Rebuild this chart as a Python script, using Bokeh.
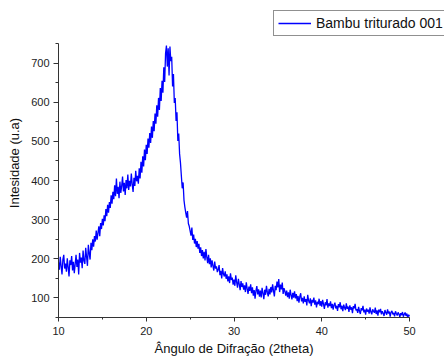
import numpy as np
from bokeh.plotting import figure
from bokeh.models import Range1d, SingleIntervalTicker, Legend, LegendItem, ColumnDataSource, Title
from bokeh.embed import file_html
from bokeh.resources import INLINE

# measurement grid: 2theta from 10 to 50 deg, step 0.1
theta_start = 10.0
theta_step = 0.1

# intensities, one row per degree (x.0 ... x.9)
intensity = [
    190, 172, 205, 181, 160, 198, 210, 175, 188, 167,   # 10
    201, 178, 155, 196, 184, 207, 170, 192, 163, 186,   # 11
    210, 179, 198, 160, 215, 190, 203, 176, 221, 195,   # 12
    187, 228, 205, 182, 236, 214, 198, 241, 222, 250,   # 13
    231, 258, 244, 272, 249, 266, 283, 258, 291, 276,   # 14
    302, 285, 311, 296, 327, 309, 338, 318, 345, 330,   # 15
    362, 341, 371, 352, 388, 360, 405, 366, 384, 355,   # 16
    397, 368, 386, 410, 372, 394, 363, 401, 380, 415,   # 17
    376, 399, 385, 418, 390, 371, 407, 386, 425, 398,   # 18
    412, 392, 431, 405, 448, 420, 462, 436, 479, 452,   # 19
    491, 468, 507, 484, 521, 496, 538, 509, 552, 526,   # 20
    571, 545, 592, 563, 611, 580, 636, 603, 655, 624,   # 21
    689, 652, 724, 745, 691, 738, 668, 742, 705, 716,   # 22
    640, 672, 598, 611, 552, 574, 501, 520, 468, 445,   # 23
    412, 380, 395, 350, 332, 318, 305, 322, 290, 283,   # 24
    271, 259, 280, 248, 262, 239, 251, 230, 245, 226,   # 25
    238, 215, 229, 207, 222, 201, 218, 196, 225, 204,   # 26
    189, 210, 186, 201, 178, 196, 182, 170, 193, 175,   # 27
    181, 166, 172, 184, 158, 169, 150, 176, 161, 155,   # 28
    168, 149, 160, 142, 155, 138, 163, 146, 152, 134,   # 29
    147, 131, 158, 140, 126, 149, 135, 120, 143, 128,   # 30
    137, 121, 132, 115, 140, 124, 110, 129, 118, 135,   # 31
    112, 127, 106, 120, 98, 118, 130, 109, 122, 103,    # 32
    119, 101, 126, 112, 97, 121, 108, 131, 114, 104,    # 33
    123, 109, 128, 114, 135, 118, 104, 131, 120, 142,   # 34
    127, 148, 115, 134, 122, 139, 110, 125, 117, 106,   # 35
    119, 102, 114, 98, 121, 108, 96, 113, 101, 117,     # 36
    99, 110, 92, 105, 88, 103, 112, 91, 100, 86,        # 37
    104, 90, 97, 81, 108, 93, 86, 99, 79, 95,           # 38
    88, 101, 83, 94, 76, 90, 84, 98, 80, 92,            # 39
    78, 95, 84, 72, 89, 81, 97, 75, 86, 79,             # 40
    91, 74, 85, 70, 82, 88, 73, 80, 67, 84,             # 41
    76, 89, 71, 80, 66, 83, 75, 69, 86, 72,             # 42
    78, 64, 81, 70, 76, 61, 79, 73, 85, 68,             # 43
    71, 62, 77, 66, 59, 74, 68, 80, 63, 70,             # 44
    57, 73, 65, 70, 60, 76, 64, 58, 71, 66,             # 45
    62, 75, 59, 68, 55, 70, 63, 72, 58, 66,             # 46
    61, 54, 69, 63, 57, 71, 60, 65, 52, 64,             # 47
    67, 58, 62, 53, 66, 60, 55, 63, 59, 51,             # 48
    61, 56, 64, 52, 58, 63, 54, 60, 50, 57,             # 49
    53,                                                 # 50
]
series_name = "Bambu triturado 001"
x_label = "Ângulo de Difração (2theta)"
y_label = "Intesidade (u.a)"
x_lim = (10, 50)
y_lim = (50, 750)

theta = np.round(theta_start + theta_step * np.arange(len(intensity)), 2)
src = ColumnDataSource(dict(x=theta, y=intensity))

FONT = "Liberation Sans"

# layout in pixels: axes box spans x 58..409, y 43..317; frame extended to
# the top/right so the legend (outside the axes box) is not clipped
W, H = 444, 358
ax_left, ax_right, ax_top, ax_bottom = 58, 409, 43, 317
fr_top, fr_right = 8, W
xs = (x_lim[1] - x_lim[0]) / (ax_right - ax_left)
ys = (y_lim[1] - y_lim[0]) / (ax_bottom - ax_top)
x_range = Range1d(x_lim[0], x_lim[1] + (fr_right - ax_right) * xs)
y_range = Range1d(y_lim[0], y_lim[1] + (ax_top - fr_top) * ys)

p = figure(width=W, height=H, output_backend="svg", toolbar_location=None,
           x_range=x_range, y_range=y_range,
           min_border_left=ax_left, min_border_right=W - fr_right,
           min_border_top=fr_top, min_border_bottom=H - ax_bottom)
p.outline_line_color = None
p.xgrid.visible = False
p.ygrid.visible = False
p.background_fill_color = "white"
p.border_fill_color = "white"

r = p.line("x", "y", source=src, line_color="#0000ff", line_width=1.3)

p.xaxis.ticker = SingleIntervalTicker(interval=10, num_minor_ticks=2)
p.yaxis.ticker = SingleIntervalTicker(interval=100, num_minor_ticks=2)
p.xaxis.bounds = x_lim
p.yaxis.bounds = y_lim

for ax in (p.xaxis[0], p.yaxis[0]):
    ax.axis_line_color = "#333333"
    ax.major_tick_line_color = "#333333"
    ax.minor_tick_line_color = "#333333"
    ax.major_tick_in = 0
    ax.minor_tick_in = 0
    ax.major_label_text_font = FONT
    ax.major_label_text_font_size = "11px"
    ax.major_label_text_color = "#222222"
    ax.axis_label_text_font = FONT
    ax.axis_label_text_font_size = "13px"
    ax.axis_label_text_font_style = "normal"
    ax.axis_label_text_color = "#111111"

p.yaxis.axis_label = y_label
p.xaxis.major_tick_out = 4
p.xaxis.minor_tick_out = 2
p.xaxis.major_label_standoff = 5
p.yaxis.major_tick_out = 5
p.yaxis.minor_tick_out = 3
p.yaxis.major_label_standoff = 4
p.yaxis.axis_label_standoff = 6

# x-axis title centred under the axes box (not under the extended frame)
xtitle = Title(text=x_label, align="left", offset=96,
               text_font=FONT, text_font_size="13px", text_font_style="normal",
               text_color="#111111", standoff=2)
p.add_layout(xtitle, "below")

legend = Legend(items=[LegendItem(label=series_name, renderers=[r])],
                location=(273 - ax_left, ax_bottom - 36),
                label_text_font=FONT, label_text_font_size="14px",
                label_text_color="#111111",
                border_line_color="#222222", border_line_width=1,
                background_fill_color="white", background_fill_alpha=1,
                padding=4, margin=0, spacing=0,
                glyph_width=33, glyph_height=12, label_height=12,
                label_standoff=5)
p.add_layout(legend)

open("out.html", "w").write(file_html(p, INLINE))
